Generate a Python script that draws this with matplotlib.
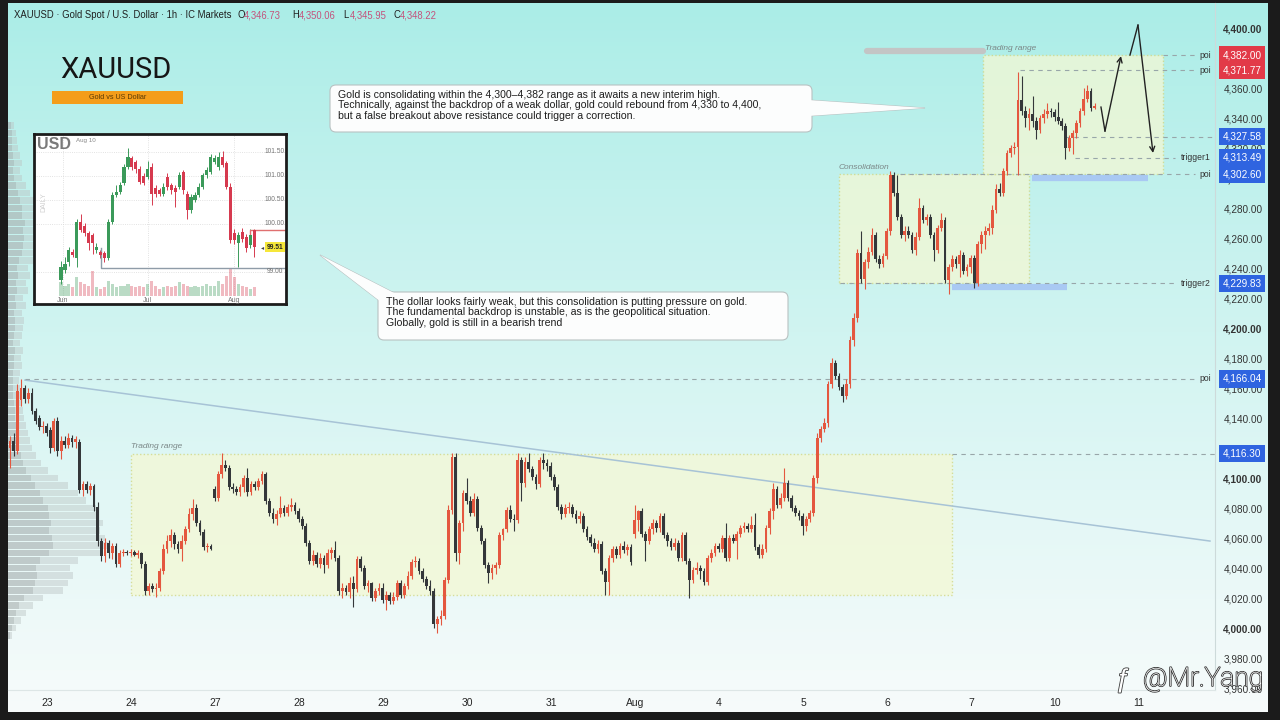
import matplotlib
matplotlib.use('Agg')
import matplotlib.pyplot as plt
import matplotlib.patheffects as pe
from matplotlib.patches import Rectangle, FancyBboxPatch, Polygon
import numpy as np

plt.rcParams['font.family'] = ['Liberation Sans', 'DejaVu Sans']

W, H = 1280, 720

# ---- XAUUSD 1h candles ----
opens = [4120, 4125, 4118, 4152, 4160, 4153, 4157, 4145, 4140, 4134, 4135, 4132, 4120, 4138, 4118, 4125, 4122, 4127, 4124, 4124,
         4092, 4096, 4092, 4095, 4081, 4058, 4048, 4057, 4050, 4055, 4043, 4050, 4051, 4050, 4051, 4049, 4050, 4043, 4025, 4028,
         4026, 4027, 4038, 4053, 4058, 4062, 4056, 4053, 4058, 4066, 4076, 4080, 4070, 4064, 4054, 4055, 4093, 4087, 4103, 4109,
         4107, 4094, 4093, 4091, 4094, 4100, 4091, 4096, 4094, 4098, 4103, 4085, 4077, 4073, 4076, 4080, 4077, 4081, 4082, 4078,
         4073, 4068, 4057, 4045, 4049, 4043, 4047, 4042, 4050, 4052, 4047, 4025, 4027, 4024, 4030, 4026, 4046, 4040, 4028, 4030,
         4020, 4025, 4027, 4019, 4022, 4018, 4021, 4030, 4022, 4028, 4035, 4044, 4045, 4038, 4033, 4028, 4025, 4003, 4006, 4008,
         4032, 4079, 4114, 4050, 4070, 4090, 4085, 4077, 4086, 4067, 4058, 4042, 4037, 4040, 4042, 4062, 4066, 4079, 4073, 4072,
         4112, 4097, 4111, 4106, 4101, 4096, 4112, 4110, 4108, 4101, 4094, 4081, 4076, 4080, 4081, 4076, 4073, 4075, 4066, 4061,
         4057, 4053, 4056, 4038, 4031, 4047, 4053, 4049, 4055, 4052, 4054, 4063, 4072, 4078, 4063, 4058, 4066, 4070, 4067, 4075,
         4062, 4058, 4054, 4057, 4047, 4062, 4045, 4032, 4039, 4040, 4038, 4031, 4047, 4050, 4055, 4053, 4060, 4047, 4060, 4058,
         4063, 4067, 4068, 4066, 4069, 4054, 4049, 4053, 4067, 4078, 4093, 4082, 4087, 4097, 4087, 4080, 4077, 4075, 4068, 4073,
         4077, 4100, 4127, 4133, 4137, 4163, 4177, 4168, 4161, 4155, 4163, 4192, 4207, 4250, 4233, 4244, 4251, 4262, 4246, 4243,
         4248, 4265, 4302, 4290, 4274, 4262, 4265, 4262, 4252, 4261, 4280, 4272, 4274, 4262, 4252, 4267, 4272, 4232, 4241, 4246,
         4243, 4249, 4238, 4241, 4247, 4230, 4256, 4262, 4265, 4267, 4279, 4293, 4290, 4305, 4317, 4320, 4321, 4352, 4345, 4340,
         4343, 4338, 4332, 4340, 4343, 4345, 4344, 4341, 4338, 4335, 4320, 4327, 4330, 4337, 4345, 4353, 4358, 4346.73]
closes = [4125, 4118, 4158, 4160, 4153, 4157, 4145, 4138, 4134, 4135, 4130, 4120, 4138, 4118, 4125, 4122, 4127, 4124, 4126, 4092,
          4096, 4092, 4095, 4081, 4058, 4048, 4057, 4050, 4055, 4043, 4050, 4051, 4050, 4051, 4049, 4050, 4043, 4025, 4028, 4026,
          4027, 4038, 4053, 4058, 4062, 4056, 4053, 4058, 4066, 4076, 4080, 4070, 4064, 4054, 4055, 4053, 4087, 4103, 4109, 4107,
          4094, 4093, 4091, 4094, 4100, 4091, 4096, 4094, 4098, 4103, 4085, 4077, 4073, 4076, 4080, 4077, 4081, 4082, 4078, 4073,
          4068, 4057, 4045, 4049, 4043, 4047, 4042, 4050, 4052, 4047, 4025, 4027, 4024, 4030, 4026, 4046, 4040, 4028, 4030, 4020,
          4025, 4027, 4019, 4022, 4018, 4021, 4030, 4022, 4028, 4035, 4044, 4045, 4038, 4033, 4028, 4025, 4003, 4006, 4008, 4032,
          4079, 4114, 4050, 4070, 4090, 4085, 4077, 4086, 4067, 4058, 4042, 4037, 4040, 4042, 4062, 4066, 4079, 4073, 4072, 4112,
          4097, 4111, 4106, 4101, 4096, 4112, 4110, 4108, 4101, 4094, 4081, 4076, 4080, 4081, 4076, 4073, 4075, 4066, 4061, 4057,
          4053, 4056, 4038, 4031, 4047, 4053, 4049, 4055, 4052, 4054, 4044, 4072, 4078, 4063, 4058, 4066, 4070, 4067, 4075, 4062,
          4058, 4054, 4057, 4047, 4062, 4045, 4032, 4039, 4040, 4038, 4031, 4047, 4050, 4055, 4053, 4060, 4047, 4060, 4058, 4063,
          4067, 4068, 4066, 4069, 4054, 4049, 4053, 4067, 4078, 4093, 4082, 4087, 4097, 4087, 4080, 4077, 4075, 4068, 4073, 4077,
          4100, 4127, 4133, 4137, 4163, 4177, 4168, 4161, 4155, 4163, 4192, 4207, 4250, 4233, 4244, 4251, 4262, 4246, 4243, 4248,
          4265, 4302, 4290, 4274, 4262, 4265, 4262, 4252, 4261, 4280, 4272, 4274, 4262, 4252, 4267, 4272, 4232, 4241, 4246, 4243,
          4249, 4238, 4241, 4247, 4230, 4256, 4262, 4265, 4267, 4279, 4293, 4290, 4305, 4317, 4320, 4321, 4352, 4345, 4340, 4343,
          4338, 4332, 4340, 4343, 4345, 4344, 4341, 4338, 4335, 4320, 4327, 4330, 4337, 4345, 4353, 4358, 4347, 4348.22]
highs = [4128, 4130, 4163, 4166, 4162, 4160, 4160, 4147, 4142, 4138, 4137, 4134, 4140, 4141, 4128, 4128, 4130, 4129, 4128, 4126,
         4098, 4098, 4097, 4096, 4084, 4060, 4060, 4059, 4057, 4057, 4052, 4053, 4052, 4053, 4052, 4052, 4051, 4045, 4030, 4030,
         4030, 4040, 4056, 4062, 4066, 4064, 4058, 4062, 4068, 4080, 4086, 4083, 4072, 4066, 4057, 4056, 4095, 4105, 4117, 4112,
         4109, 4097, 4095, 4096, 4102, 4107, 4098, 4098, 4100, 4105, 4104, 4087, 4080, 4079, 4088, 4082, 4083, 4087, 4084, 4080,
         4075, 4070, 4059, 4052, 4051, 4050, 4049, 4053, 4054, 4058, 4049, 4030, 4029, 4034, 4035, 4048, 4048, 4042, 4032, 4031,
         4027, 4030, 4030, 4025, 4024, 4024, 4032, 4032, 4030, 4038, 4046, 4048, 4047, 4040, 4035, 4032, 4027, 4008, 4012, 4034,
         4082, 4117, 4117, 4072, 4092, 4100, 4088, 4090, 4088, 4069, 4060, 4044, 4043, 4044, 4064, 4067, 4081, 4082, 4076, 4117,
         4114, 4114, 4117, 4108, 4103, 4114, 4117, 4113, 4111, 4103, 4096, 4083, 4083, 4084, 4083, 4079, 4078, 4077, 4068, 4063,
         4060, 4059, 4058, 4040, 4049, 4055, 4055, 4057, 4058, 4056, 4056, 4082, 4079, 4080, 4065, 4068, 4073, 4072, 4077, 4077,
         4064, 4060, 4060, 4059, 4064, 4064, 4047, 4041, 4044, 4042, 4040, 4049, 4053, 4057, 4057, 4062, 4070, 4062, 4063, 4065,
         4069, 4071, 4070, 4075, 4077, 4056, 4056, 4069, 4080, 4097, 4095, 4090, 4107, 4099, 4089, 4082, 4079, 4077, 4075, 4079,
         4102, 4130, 4135, 4140, 4165, 4180, 4179, 4170, 4163, 4166, 4195, 4210, 4253, 4265, 4246, 4254, 4267, 4264, 4249, 4250,
         4267, 4305, 4304, 4302, 4276, 4268, 4268, 4264, 4264, 4287, 4282, 4276, 4276, 4264, 4269, 4277, 4274, 4243, 4249, 4248,
         4252, 4251, 4243, 4249, 4249, 4258, 4265, 4268, 4270, 4282, 4296, 4297, 4307, 4319, 4322, 4324, 4371, 4368, 4348, 4347,
         4355, 4341, 4342, 4346, 4350, 4347, 4346, 4351, 4340, 4337, 4329, 4332, 4339, 4347, 4360, 4362, 4360, 4350.06]
lows = [4107, 4115, 4116, 4148, 4150, 4150, 4143, 4136, 4132, 4130, 4128, 4117, 4118, 4115, 4113, 4120, 4120, 4121, 4120, 4090,
        4088, 4090, 4089, 4078, 4055, 4045, 4044, 4047, 4046, 4041, 4041, 4048, 4049, 4048, 4048, 4047, 4040, 4022, 4022, 4024,
        4021, 4025, 4036, 4050, 4054, 4053, 4050, 4045, 4056, 4064, 4072, 4068, 4062, 4052, 4051, 4052, 4085, 4085, 4100, 4105,
        4092, 4090, 4089, 4088, 4091, 4088, 4089, 4092, 4092, 4096, 4083, 4075, 4070, 4069, 4074, 4075, 4075, 4078, 4076, 4071,
        4066, 4055, 4043, 4042, 4041, 4040, 4037, 4040, 4046, 4045, 4022, 4020, 4022, 4020, 4014, 4024, 4038, 4026, 4024, 4018,
        4018, 4022, 4017, 4012, 4016, 4016, 4019, 4020, 4020, 4026, 4033, 4041, 4036, 4031, 4026, 4022, 4000, 3997, 4002, 4006,
        4030, 4076, 4045, 4043, 4065, 4083, 4075, 4075, 4065, 4056, 4040, 4030, 4033, 4036, 4040, 4059, 4064, 4071, 4065, 4070,
        4085, 4094, 4104, 4099, 4093, 4094, 4106, 4105, 4099, 4092, 4079, 4073, 4074, 4077, 4074, 4070, 4070, 4064, 4059, 4055,
        4051, 4050, 4036, 4022, 4022, 4044, 4047, 4047, 4050, 4049, 4042, 4060, 4065, 4061, 4045, 4056, 4063, 4064, 4064, 4060,
        4055, 4052, 4052, 4045, 4045, 4043, 4020, 4030, 4036, 4033, 4029, 4029, 4044, 4048, 4051, 4051, 4045, 4045, 4057, 4046,
        4061, 4064, 4064, 4064, 4052, 4047, 4047, 4051, 4063, 4073, 4080, 4080, 4085, 4085, 4078, 4075, 4072, 4062, 4065, 4071,
        4075, 4097, 4124, 4131, 4134, 4160, 4166, 4159, 4151, 4153, 4160, 4188, 4204, 4230, 4226, 4240, 4249, 4244, 4240, 4241,
        4246, 4262, 4288, 4272, 4260, 4258, 4260, 4250, 4249, 4259, 4270, 4269, 4260, 4245, 4250, 4265, 4230, 4223, 4238, 4240,
        4234, 4236, 4235, 4237, 4227, 4228, 4250, 4253, 4262, 4263, 4277, 4288, 4288, 4302, 4314, 4316, 4302, 4342, 4334, 4332,
        4334, 4326, 4330, 4337, 4340, 4341, 4338, 4336, 4332, 4313, 4318, 4316, 4327, 4334, 4342, 4351, 4345, 4345.95]

day_labels = ['23', '24', '27', '28', '29', '30', '31', 'Aug', '4', '5', '6', '7', '10', '11']

# left volume profile (price level -> width read in px)
vp_levels = list(range(3995, 4340, 5))
vp_volume = [4, 8, 13, 18, 25, 35, 55, 60, 65, 62, 70, 92, 100, 97, 92, 95, 90, 88, 78, 70,
             60, 50, 40, 33, 28, 24, 22, 20, 18, 16, 15, 13, 12, 12, 11, 12, 14, 13, 15, 12,
             14, 15, 16, 14, 18, 15, 20, 18, 22, 20, 25, 30, 33, 36, 34, 37, 32, 30, 26, 22,
             18, 14, 12, 14, 12, 10, 9, 8, 6]

# marked levels on the price scale
level_prices = [4382.00, 4371.77, 4327.58, 4313.49, 4302.60, 4229.83, 4166.04, 4116.30]
level_names = ['poi', 'poi', '', 'trigger1', 'poi', 'trigger2', 'poi', '']
level_red = [True, True, False, False, False, False, False, False]

# ---- USD daily inset ----
usd_open = [98.83, 99.03, 99.21, 99.42, 99.28, 100.04, 99.95, 99.80, 99.76, 99.45, 99.42, 99.40, 99.28, 100.04, 100.60,
            100.67, 100.84, 101.19, 101.36, 101.29, 101.15, 101.00, 100.98, 101.19, 100.74, 100.70, 100.63, 100.98, 100.81,
            100.74, 100.77, 101.08, 100.63, 100.28, 100.49, 100.60, 100.77, 101.01, 101.08, 101.29, 101.19, 101.40, 101.26,
            100.77, 99.80, 99.59, 99.83, 99.73, 99.56, 99.87]
usd_close = [99.10, 99.17, 99.45, 99.35, 100.04, 99.87, 99.80, 99.59, 99.60, 99.52, 99.35, 99.28, 100.04, 100.60, 100.67,
             100.81, 101.19, 101.40, 101.19, 101.15, 100.88, 100.84, 101.15, 100.63, 100.63, 100.63, 100.77, 100.77, 100.70,
             100.67, 101.01, 100.70, 100.28, 100.56, 100.60, 100.77, 101.01, 101.12, 101.40, 101.36, 101.40, 101.23, 100.77,
             99.66, 99.66, 99.76, 99.69, 99.49, 99.76, 99.51]
usd_high = [99.22, 99.30, 99.52, 99.48, 100.10, 100.20, 100.02, 99.86, 99.80, 99.60, 99.46, 99.44, 100.10, 100.66, 100.80,
            100.88, 101.25, 101.57, 101.42, 101.33, 101.20, 101.05, 101.30, 101.26, 100.80, 100.74, 100.84, 101.05, 100.86,
            100.80, 101.08, 101.12, 100.68, 100.62, 100.66, 100.84, 101.06, 101.19, 101.45, 101.44, 101.50, 101.52, 101.30,
            100.84, 99.90, 99.82, 99.92, 99.78, 99.90, 99.90]
usd_low = [98.74, 98.98, 99.12, 99.30, 99.10, 99.82, 99.75, 99.45, 99.38, 99.40, 99.28, 99.20, 99.24, 100.00, 100.55,
           100.62, 100.80, 101.15, 101.12, 101.05, 100.82, 100.80, 100.94, 100.40, 100.55, 100.58, 100.58, 100.70, 100.62,
           100.35, 100.72, 100.62, 100.10, 100.22, 100.45, 100.55, 100.72, 100.96, 101.04, 101.24, 101.12, 101.18, 100.72,
           99.60, 99.58, 99.10, 99.62, 99.42, 99.50, 99.30]
usd_vol = [40, 30, 35, 25, 55, 40, 35, 30, 75, 25, 20, 25, 45, 35, 25, 30, 30, 35, 30, 25,
           30, 25, 35, 45, 30, 20, 25, 30, 25, 30, 40, 35, 30, 25, 30, 25, 30, 35, 30, 30,
           45, 35, 60, 80, 55, 35, 30, 25, 20, 25]
usd_ticks = [101.5, 101.0, 100.5, 100.0, 99.0]

UP = '#e4573f'
DOWN = '#34373a'
TEXT = '#262626'

fig = plt.figure(figsize=(12.8, 7.2), dpi=100)
fig.patch.set_facecolor('#1b1b1b')

# background gradient
bg = fig.add_axes([8 / W, 8 / H, 1260 / W, 709 / H])
t = np.linspace(0, 1, 256) ** 0.9
top_c = np.array([170, 237, 231]) / 255
bot_c = np.array([247, 251, 251]) / 255
grad = top_c[None, None, :] + (bot_c - top_c)[None, None, :] * t[:, None, None]
bg.imshow(grad, aspect='auto', extent=[0, 1, 0, 1])
bg.axis('off')

# main price chart
ax = fig.add_axes([8 / W, 30 / H, 1207 / W, 687 / H])
ax.set_facecolor('none')
x0, x1 = -0.464, 13.905
ax.set_xlim(x0, x1)
ax.set_ylim(3958.7, 4416.7)
day_per_px = (x1 - x0) / 1207


def px_day(px):
    return (px - 47) / 84


# volume profile
vp = np.array(vp_volume, dtype=float)
vp_w = vp / vp.max() * 100 * day_per_px
ax.barh(vp_levels, vp_w, left=x0, height=4.4, color='#bcc4c4', alpha=0.45, lw=0, zorder=1)
ax.barh(vp_levels, vp_w * 0.45, left=x0, height=4.4, color='#9aa3a3', alpha=0.35, lw=0, zorder=1)

# boxes
box_style = dict(fc='#f4f8d4', ec='#cfd57e', lw=1, ls=(0, (1, 1.6)), alpha=0.75, zorder=2)
ax.add_patch(Rectangle((px_day(131), 4022), px_day(952) - px_day(131), 4116.3 - 4022, **box_style))
ax.add_patch(Rectangle((px_day(839), 4230), px_day(1029) - px_day(839), 4302.6 - 4230, **box_style))
ax.add_patch(Rectangle((px_day(983), 4302.6), px_day(1163) - px_day(983), 4382 - 4302.6, **box_style))
lab_style = dict(fontsize=6, style='italic', color='#7b8787', va='bottom', zorder=6)
ax.text(px_day(131), 4118.5, 'Trading range', **lab_style)
ax.text(px_day(839), 4304.5, 'Consolidation', **lab_style)
ax.text(px_day(985), 4384, 'Trading range', **lab_style)

# highlight bars
ax.plot([px_day(867), px_day(983)], [4385, 4385], lw=4.5, color='#c3c5c5', solid_capstyle='round', zorder=3)
ax.plot([px_day(1032), px_day(1148)], [4300, 4300], lw=4.5, color='#a9c9f3', solid_capstyle='butt', zorder=3)
ax.plot([px_day(952), px_day(1067)], [4227.5, 4227.5], lw=4.5, color='#a9c9f3', solid_capstyle='butt', zorder=3)

# trend line
ax.plot([px_day(25), px_day(1210)], [4165.3, 4058], color='#a7c3d6', lw=1.1, zorder=3)

# dashed levels
level_start = [1163, 1020, 1065, 1075, 900, 840, 25, 952]
for p, name, s in zip(level_prices, level_names, level_start):
    end = 1195 if name == 'poi' else (1175 if name.startswith('trigger') else 1215)
    ax.hlines(p, px_day(s), px_day(end), colors='#98a6a9', lw=0.8, linestyles=(0, (4, 4)), zorder=3)

# candles
x = -0.44 + np.arange(len(closes)) / 23
o = np.array(opens)
c = np.array(closes)
col = np.where(c >= o, UP, DOWN)
ax.vlines(x, lows, highs, colors=col, lw=0.8, zorder=4)
ax.bar(x, np.maximum(np.abs(c - o), 0.9), bottom=np.minimum(o, c), width=0.033, color=col, lw=0, zorder=5)

# projection arrows
ax.plot([px_day(1101), px_day(1105)], [4347.3, 4331.3], color='#222', lw=1, zorder=6)
ax.annotate('', xy=(px_day(1121), 4381.3), xytext=(px_day(1105), 4331.3),
            arrowprops=dict(arrowstyle='->', color='#222', lw=1, shrinkA=0, shrinkB=0, mutation_scale=9), zorder=6)
ax.plot([px_day(1130), px_day(1138)], [4382, 4402], color='#222', lw=1, zorder=6)
ax.annotate('', xy=(px_day(1153), 4316.7), xytext=(px_day(1138), 4402),
            arrowprops=dict(arrowstyle='->', color='#222', lw=1, shrinkA=0, shrinkB=0, mutation_scale=9), zorder=6)

# axes styling
for side in ['top', 'left']:
    ax.spines[side].set_visible(False)
ax.spines['right'].set_color('#cddada')
ax.spines['bottom'].set_color('#dde6e6')
ax.set_xticks(range(len(day_labels)))
ax.set_xticklabels(day_labels, fontsize=7.5, color=TEXT)
ax.tick_params(axis='x', length=0, pad=6)
yt = np.arange(3960, 4401, 20)
ax.yaxis.tick_right()
ax.set_yticks(yt)
ax.set_yticklabels([f'{v:,.2f}' for v in yt], fontsize=7.2, color='#333')
ax.tick_params(axis='y', length=0, pad=6)
for v, lbl in zip(yt, ax.get_yticklabels()):
    if v % 100 == 0:
        lbl.set_fontweight('bold')

# level tags on the price scale
trans = ax.get_yaxis_transform()
for p, name, red in zip(level_prices, level_names, level_red):
    ax.text((1242 - 8) / 1207, p, f'{p:,.2f}', transform=trans, fontsize=7.2, color='white',
            ha='center', va='center', clip_on=False, zorder=10,
            bbox=dict(boxstyle='square,pad=0.38', fc='#e23a48' if red else '#2f64e0', ec='none'))
    if name:
        ax.text((1211 - 8) / 1207, p, name, transform=trans, fontsize=6.2, color='#333',
                ha='right', va='center', clip_on=False, zorder=10)

# overlay in figure pixels
ov = fig.add_axes([0, 0, 1, 1], zorder=6)
ov.set_xlim(0, W)
ov.set_ylim(H, 0)
ov.axis('off')

ov.text(14, 15, 'XAUUSD · Gold Spot / U.S. Dollar · 1h · IC Markets', fontsize=6.85, color='#1f1f1f', va='center')
for lx, letter, val in [(237, 'O', '4,346.73'), (292, 'H', '4,350.06'), (343, 'L', '4,345.95'), (393, 'C', '4,348.22')]:
    ov.text(lx, 15, letter, fontsize=6.85, color='#1f1f1f', va='center')
    ov.text(lx + 6.5, 15, val, fontsize=6.85, color='#c4527c', va='center')

ov.text(60, 70, 'XAUUSD', fontsize=21, family=['Roboto', 'DejaVu Sans'], color='#161616', va='center')
ov.add_patch(Rectangle((52, 91), 131, 13, fc='#f49d1a', ec='none'))
ov.text(117.5, 97.5, 'Gold vs US Dollar', fontsize=5.2, color='#5a3a05', ha='center', va='center')


def callout(box, tip, base, lines, tx, ty):
    bx, by, bw, bh = box
    wedge = [base[0], tip, base[1]]
    ov.add_patch(Polygon(wedge, closed=True, fc='#fcfdfd', ec='#b9c2c2', lw=0.8, zorder=1))
    ov.add_patch(FancyBboxPatch((bx, by), bw, bh, boxstyle='round,pad=0,rounding_size=6',
                                fc='#fcfdfd', ec='#b9c2c2', lw=0.8, zorder=2))
    ov.add_patch(Polygon(wedge, closed=True, fc='#fcfdfd', ec='none', zorder=3))
    ov.text(tx, ty, '\n'.join(lines), fontsize=7.6, color='#1e1e1e', va='top', ha='left',
            linespacing=1.05, zorder=4)


callout((330, 85, 482, 47), (925, 108), [(808, 100), (808, 116)],
        ['Gold is consolidating within the 4,300–4,382 range as it awaits a new interim high.',
         'Technically, against the backdrop of a weak dollar, gold could rebound from 4,330 to 4,400,',
         'but a false breakout above resistance could trigger a correction.'], 338, 90)
callout((378, 292, 410, 48), (320, 255), [(381, 302), (398, 295)],
        ['The dollar looks fairly weak, but this consolidation is putting pressure on gold.',
         'The fundamental backdrop is unstable, as is the geopolitical situation.',
         'Globally, gold is still in a bearish trend'], 386, 297)

# watermark
wm = [pe.withStroke(linewidth=1.2, foreground='#3c3c3c')]
ov.text(1143, 679, '@Mr.Yang', fontsize=19, color='white', family=['Roboto', 'DejaVu Sans'],
        fontweight='light', va='center', path_effects=wm)
ov.text(1116, 680, 'ƒ', fontsize=19, color='white', va='center', path_effects=wm)

# USD inset
ins = fig.add_axes([34 / W, 1 - 304 / H, 252 / W, 170 / H], zorder=7)
ins.set_facecolor('white')
ins.set_xlim(-6.85, 57.1)
ins.set_ylim(98.33, 101.87)
for s in ins.spines.values():
    s.set_linewidth(2)
    s.set_color('#1c1c1c')
ins.set_xticks([])
ins.set_yticks([])
for v in usd_ticks:
    ins.axhline(v, color='#d9d9d9', lw=0.6, ls=':', zorder=0)
for xv in [0.5, 22, 44]:
    ins.axvline(xv, color='#d9d9d9', lw=0.6, ls=':', zorder=0)
ux = np.arange(len(usd_close))
uo = np.array(usd_open)
uc = np.array(usd_close)
ucol = np.where(uc >= uo, '#3b9a5a', '#d63a4f')
uv = np.array(usd_vol, dtype=float)
ins.bar(ux, uv / uv.max() * 0.56, bottom=98.5, width=0.8, color=ucol, alpha=0.35, lw=0, zorder=1)
ins.vlines(ux, usd_low, usd_high, colors=ucol, lw=0.7, zorder=2)
ins.bar(ux, np.maximum(np.abs(uc - uo), 0.02), bottom=np.minimum(uo, uc), width=0.8, color=ucol, lw=0, zorder=3)
ins.plot([10.2, 10.2, 57.1], [99.5, 99.09, 99.09], color='#8f9ca8', lw=1, zorder=2)
ins.plot([48, 48, 57.1], [99.78, 99.88, 99.88], color='#e07070', lw=1, zorder=2)
for v in usd_ticks:
    ins.text(54.3, v, f'{v:.2f}', fontsize=4.8, color='#777', ha='center', va='center', zorder=4)
ins.text(54.3, 99.51, '99.51', fontsize=4.8, color='#222', fontweight='bold', ha='center', va='center', zorder=5,
         bbox=dict(boxstyle='square,pad=0.2', fc='#f6e73a', ec='none'))
ins.text(51.2, 99.51, '◂', fontsize=4.5, color='#444', ha='center', va='center', zorder=5)
for xv, lbl in [(0.5, 'Jun'), (22, 'Jul'), (44, 'Aug')]:
    ins.text(xv, 98.41, lbl, fontsize=5, color='#777', ha='center', va='center', zorder=4)
ins.text(0.01, 0.985, 'USD', transform=ins.transAxes, fontsize=11.5, fontweight='bold', color='#7a7a7a',
         ha='left', va='top', zorder=4)
ins.text(0.165, 0.975, 'Aug 10', transform=ins.transAxes, fontsize=4.5, color='#8a8a8a', ha='left', va='top', zorder=4)
ins.text(0.04, 0.6, 'DAILY', transform=ins.transAxes, fontsize=5, color='#cfcfcf', rotation=90,
         ha='center', va='center', zorder=4)

fig.savefig('out.png', dpi=100, facecolor=fig.get_facecolor())
